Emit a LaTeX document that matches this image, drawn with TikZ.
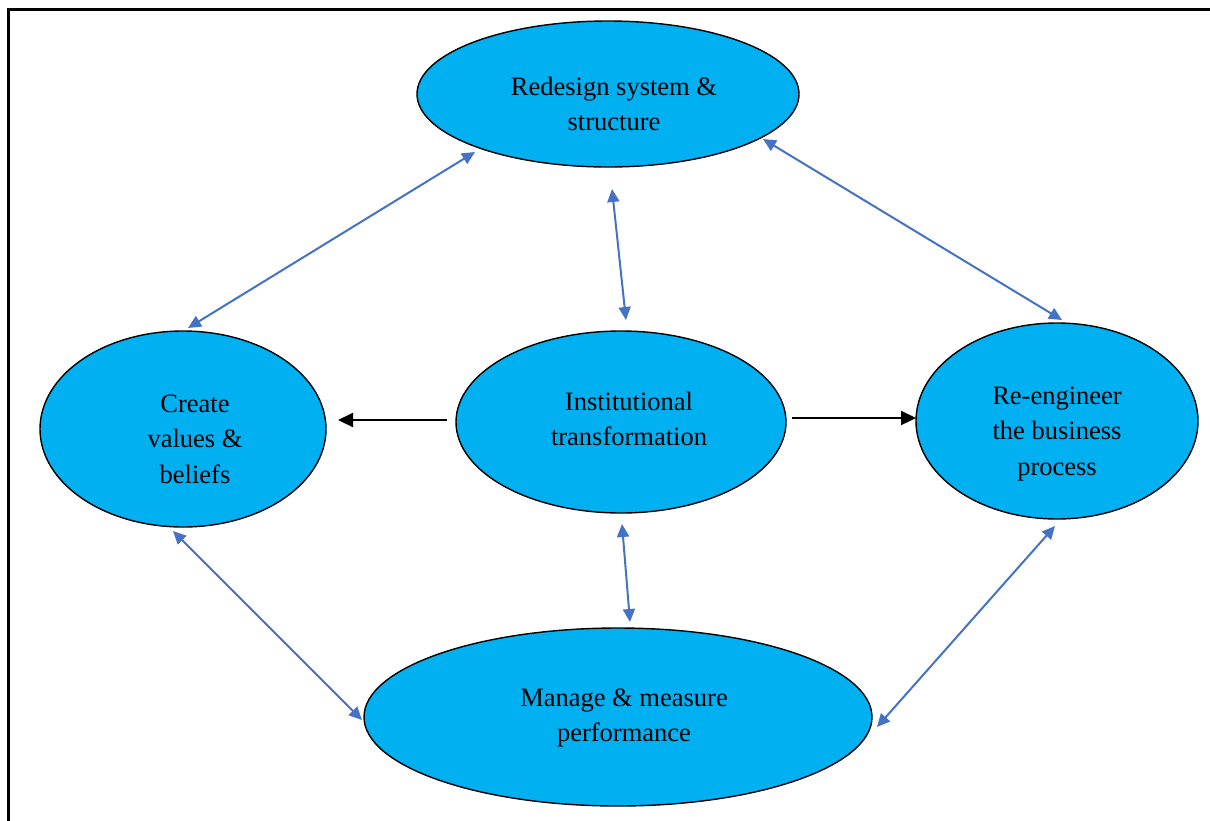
\documentclass[tikz,border=0pt]{standalone}
\usepackage{fontspec}
\setmainfont{Liberation Serif}
\usetikzlibrary{shapes.geometric,arrows.meta}
\definecolor{cyanfill}{HTML}{00B0F0}
\definecolor{linkblue}{HTML}{4472C4}
\begin{document}
\begin{tikzpicture}[x=1pt,y=-1pt,
  ell/.style={ellipse,draw=black,line width=1.4pt,fill=cyanfill,inner sep=0pt},
  txt/.style={align=center,inner sep=0pt,font=\fontsize{26.5}{35.5}\selectfont},
  link/.style={draw=linkblue,line width=2pt,{Triangle[length=13pt,width=12pt]}-{Triangle[length=13pt,width=12pt]}},
  blk/.style={draw=black,line width=2.2pt,-{Triangle[length=15pt,width=14pt]}}]
\useasboundingbox (0,0) rectangle (1210,820);
\draw[line width=3pt] (8,822) -- (8,9) -- (1212,9);
\node[ell,minimum width=382pt,minimum height=146pt] (top) at (608,94) {};
\node[ell,minimum width=286pt,minimum height=196pt] (left) at (183,429) {};
\node[ell,minimum width=330pt,minimum height=182pt] (mid) at (621,422) {};
\node[ell,minimum width=282pt,minimum height=196pt] (right) at (1057,421) {};
\node[ell,minimum width=508pt,minimum height=178pt] (bot) at (618,717) {};
\node[txt] (topt) at (614,104) {Redesign system \&\\structure};
\node[txt] (leftt) at (195,439) {Create\\values \&\\beliefs};
\node[txt] (midt) at (629,419) {Institutional\\transformation};
\node[txt] (rightt) at (1057,434) {Re-engineer\\the business\\process};
\node[txt] (bott) at (624,718) {Manage \& measure\\performance};
\coordinate (a1) at (475,152); \coordinate (a2) at (188,328);
\coordinate (b1) at (763,139); \coordinate (b2) at (1062,320);
\coordinate (c1) at (612,189); \coordinate (c2) at (626,320);
\coordinate (d1) at (622,524); \coordinate (d2) at (630,622);
\coordinate (e1) at (173,531); \coordinate (e2) at (362,720);
\coordinate (f1) at (1055,526); \coordinate (f2) at (877,727);
\coordinate (g1) at (447,420); \coordinate (g2) at (338,420);
\coordinate (h1) at (792,418); \coordinate (h2) at (916,418);
\draw[link] (a1) -- (a2);
\draw[link] (b1) -- (b2);
\draw[link] (c1) -- (c2);
\draw[link] (d1) -- (d2);
\draw[link] (e1) -- (e2);
\draw[link] (f1) -- (f2);
\draw[blk] (g1) -- (g2);
\draw[blk] (h1) -- (h2);
\end{tikzpicture}
\end{document}
